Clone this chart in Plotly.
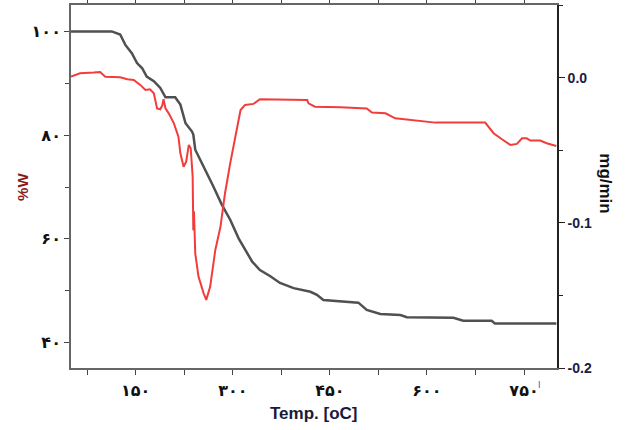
import plotly.graph_objects as go

# TG curve (weight %, left axis)
tg_temp = [50, 113, 126, 134, 144, 152, 160, 167, 178, 188, 196, 211, 219, 227, 237, 239,
           242, 255, 270, 283, 296, 309, 319, 330, 342, 358, 373, 394, 420, 430, 440, 494,
           507, 528, 559, 569, 641, 656, 700, 705, 800]
tg_weight = [100, 100, 99.4, 97.4, 95.8, 93.9, 92.9, 91.3, 90.4, 89.1, 87.3, 87.3, 85.9, 82.3,
             80.7, 80.1, 77.2, 74.0, 70.1, 66.6, 63.7, 60.1, 57.9, 55.6, 54.0, 52.8, 51.5, 50.5,
             49.8, 49.2, 48.2, 47.7, 46.3, 45.5, 45.3, 44.9, 44.8, 44.2, 44.2, 43.7, 43.7]

# DTG curve (mg/min, right axis)
dtg_temp = [50, 64, 85, 95, 103, 126, 137, 147, 157, 165, 172, 178, 183, 188, 191, 193, 196,
            201, 209, 216, 219, 224, 228, 232, 235, 238, 239, 240, 242, 247, 255, 259, 265,
            273, 281, 288, 296, 304, 312, 319, 332, 342, 394, 404, 415, 417, 427, 466, 507,
            515, 536, 551, 585, 613, 690, 703, 716, 729, 739, 747, 754, 760, 775, 785, 800]
dtg_rate = [0.0009, 0.0032, 0.0037, 0.0041, 0.0009, 0.0005, -0.0009, -0.0014, -0.0048, -0.0083,
            -0.0078, -0.0106, -0.021, -0.0216, -0.019, -0.0147, -0.021, -0.0244, -0.0313,
            -0.0405, -0.052, -0.0612, -0.0577, -0.0462, -0.0485, -0.068, -0.105, -0.092,
            -0.121, -0.137, -0.1485, -0.153, -0.144, -0.1186, -0.1025, -0.0795, -0.0589,
            -0.0405, -0.0221, -0.0186, -0.0179, -0.0147, -0.0147, -0.0152, -0.0152, -0.0175,
            -0.0198, -0.0202, -0.021, -0.0239, -0.0244, -0.0278, -0.0294, -0.0308, -0.0308,
            -0.0381, -0.0423, -0.0462, -0.0455, -0.0416, -0.0416, -0.0432, -0.0432, -0.045,
            -0.0469]

x_tickvals = [150, 300, 450, 600, 750]
x_ticktext = ["۱۵۰", "۳۰۰", "۴۵۰", "۶۰۰", "۷۵۰"]
y_tickvals = [40, 60, 80, 100]
y_ticktext = ["۴۰", "۶۰", "۸۰", "۱۰۰"]
y2_tickvals = [-0.2, -0.1, 0.0]
y2_ticktext = ["-0.2", "-0.1", "0.0"]

fig = go.Figure()
fig.add_trace(go.Scatter(x=dtg_temp, y=dtg_rate, yaxis="y2", mode="lines",
                         line=dict(color="#f23c3c", width=2), showlegend=False))
fig.add_trace(go.Scatter(x=tg_temp, y=tg_weight, yaxis="y", mode="lines",
                         line=dict(color="#505050", width=2.5), showlegend=False))

fa_font = dict(family="DejaVu Sans", size=16, color="#111111", weight="bold")

fig.update_layout(
    width=628, height=430,
    margin=dict(l=71, r=71, t=5, b=62),
    paper_bgcolor="white", plot_bgcolor="white",
    showlegend=False,
    xaxis=dict(range=[50, 801], tickvals=x_tickvals, ticktext=x_ticktext,
               ticks="outside", ticklen=5, tickcolor="#444", tickwidth=1.2,
               showline=True, linecolor="#666", linewidth=1.8, mirror="allticks",
               showgrid=False, zeroline=False, tickfont=fa_font, ticklabelstandoff=2,
               automargin=False,
               minor=dict(ticks="outside", ticklen=4, dtick=75, tick0=0, tickcolor="#444")),
    yaxis=dict(range=[35.1, 105.1], tickvals=y_tickvals, ticktext=y_ticktext,
               ticks="outside", ticklen=5, tickcolor="#444", tickwidth=1.2,
               showline=True, linecolor="#666", linewidth=1.8,
               showgrid=False, zeroline=False, tickfont=fa_font, automargin=False,
               minor=dict(ticks="outside", ticklen=4, dtick=10, tick0=0, tickcolor="#444")),
    yaxis2=dict(range=[-0.2, 0.0503], tickvals=y2_tickvals, ticktext=y2_ticktext,
                overlaying="y", side="right", anchor="x", automargin=False,
                ticks="outside", ticklen=6, tickcolor="#222", tickwidth=1.2,
                showline=True, linecolor="#222", linewidth=1.6,
                showgrid=False, zeroline=False,
                tickfont=dict(family="Liberation Sans", size=14, color="#1a2040", weight="bold"),
                minor=dict(ticks="outside", ticklen=4, dtick=0.05, tick0=0, tickcolor="#222")),
    annotations=[
        dict(text="<b>Temp. [oC]</b>", xref="paper", yref="paper", x=0.5, y=-0.095,
             xanchor="center", yanchor="top", showarrow=False,
             font=dict(family="Liberation Sans", size=17, color="#1a1a3a")),
        dict(text="<b>%W</b>", xref="paper", yref="paper", x=-0.1, y=0.5,
             xanchor="center", yanchor="middle", textangle=-90, showarrow=False,
             font=dict(family="Liberation Sans", size=15, color="#8a1a1a")),
        dict(text="<b>mg/min</b>", xref="paper", yref="paper", x=1.1, y=0.51,
             xanchor="center", yanchor="middle", textangle=90, showarrow=False,
             font=dict(family="Liberation Sans", size=17, color="#111")),
        dict(text="ا", xref="x", yref="paper", x=774, y=-0.028,
             xanchor="center", yanchor="top", showarrow=False,
             font=dict(family="DejaVu Sans", size=9, color="#3050c0")),
    ],
)

fig.write_html("out.html", config={"displayModeBar": False},
               post_script="document.body.style.margin='0';document.body.style.padding='0';")
